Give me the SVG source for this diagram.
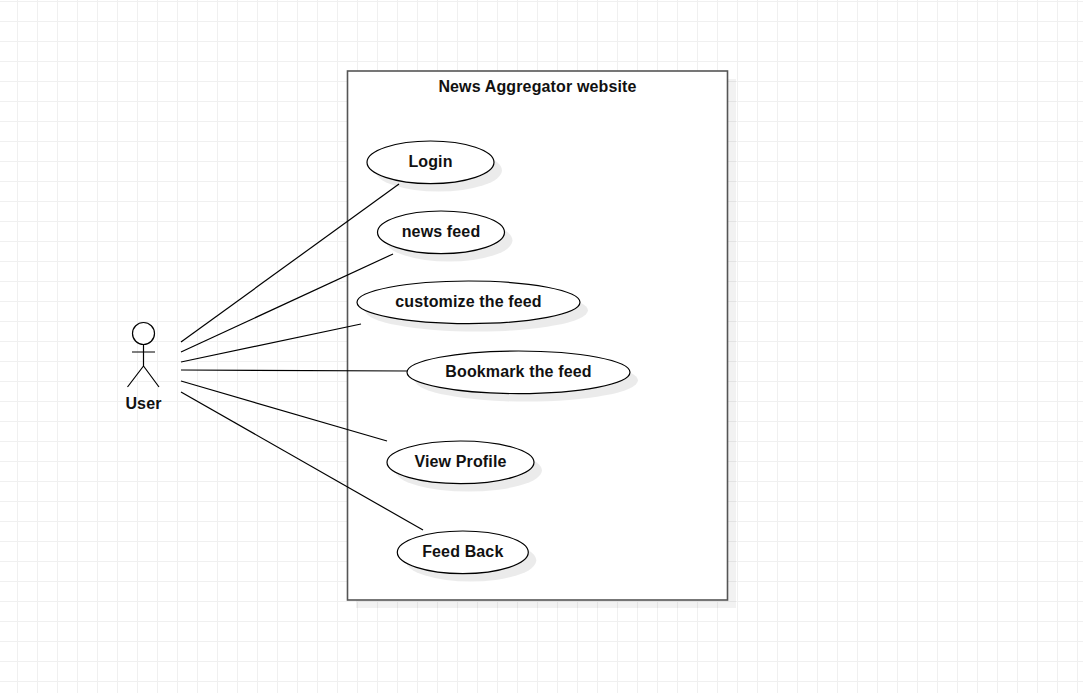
<svg xmlns="http://www.w3.org/2000/svg" width="1083" height="693" viewBox="0 0 1083 693">
<defs>
<pattern id="grid" width="20" height="20" patternUnits="userSpaceOnUse" x="-3" y="1">
<path d="M0 .5H20M.5 0V20" fill="none" stroke="#f0f0f0" stroke-width="1"/>
</pattern>
<filter id="blur" x="-10%" y="-20%" width="120%" height="140%"><feGaussianBlur stdDeviation="0.6"/></filter>
</defs>
<style>
.u{fill:#fff;stroke:#000;stroke-width:1.2}
.s{fill:#000;fill-opacity:.08;filter:url(#blur)}
.r{fill:#000;fill-opacity:.05}
.t{font-family:"Liberation Sans",Arial,sans-serif;font-size:16px;font-weight:bold;fill:#111;text-anchor:middle;letter-spacing:.14px}
.c{stroke:#000;stroke-width:1.2;fill:none}
</style>
<rect width="1083" height="693" fill="#fff"/>
<rect width="1083" height="693" fill="url(#grid)"/>
<g id="system">
<rect class="r" x="356" y="79" width="380" height="529"/>
<rect x="347.500" y="71" width="380" height="529" fill="#fff" stroke="#555" stroke-width="1.6"/>
<text class="t" x="537.500" y="91.500">News Aggregator website</text>
</g>
<g id="connectors">
<line class="c" x1="181" y1="342" x2="399" y2="184"/>
<line class="c" x1="181" y1="352" x2="393" y2="254"/>
<line class="c" x1="181" y1="362" x2="361" y2="324"/>
<line class="c" x1="181" y1="370" x2="408" y2="371"/>
<line class="c" x1="181" y1="381" x2="387" y2="441"/>
<line class="c" x1="181" y1="392" x2="423" y2="530"/>
</g>
<g id="user" fill="none" stroke="#000" stroke-width="1.200">
<circle cx="143.500" cy="333.500" r="11" fill="#fff"/>
<path d="M143.500 344.500V366M132 352H155M143.500 366L127.500 387M143.500 366L159 387"/>
<text class="t" x="143.500" y="408.500" stroke="none">User</text>
</g>
<g id="login"><ellipse class="s" cx="438.500" cy="170.300" rx="63.500" ry="21.300"/><ellipse class="u" cx="430.500" cy="162.300" rx="63.500" ry="21.300"/><text class="t" x="430.500" y="166.500">Login</text></g>
<g id="news-feed"><ellipse class="s" cx="449" cy="240.300" rx="63.500" ry="21.300"/><ellipse class="u" cx="441" cy="232.300" rx="63.500" ry="21.300"/><text class="t" x="441" y="236.500">news feed</text></g>
<g id="customize"><ellipse class="s" cx="476.500" cy="310.300" rx="111.500" ry="21.300"/><ellipse class="u" cx="468.500" cy="302.300" rx="111.500" ry="21.300"/><text class="t" x="468.500" y="306.500">customize the feed</text></g>
<g id="bookmark"><ellipse class="s" cx="526.500" cy="380.300" rx="111.500" ry="21.300"/><ellipse class="u" cx="518.500" cy="372.300" rx="111.500" ry="21.300"/><text class="t" x="518.500" y="376.500">Bookmark the feed</text></g>
<g id="view-profile"><ellipse class="s" cx="468.500" cy="470.300" rx="73.500" ry="21.300"/><ellipse class="u" cx="460.500" cy="462.300" rx="73.500" ry="21.300"/><text class="t" x="460.500" y="466.500">View Profile</text></g>
<g id="feedback"><ellipse class="s" cx="470.800" cy="560.300" rx="65.500" ry="21.300"/><ellipse class="u" cx="462.800" cy="552.300" rx="65.500" ry="21.300"/><text class="t" x="462.800" y="556.500">Feed Back</text></g>
</svg>
